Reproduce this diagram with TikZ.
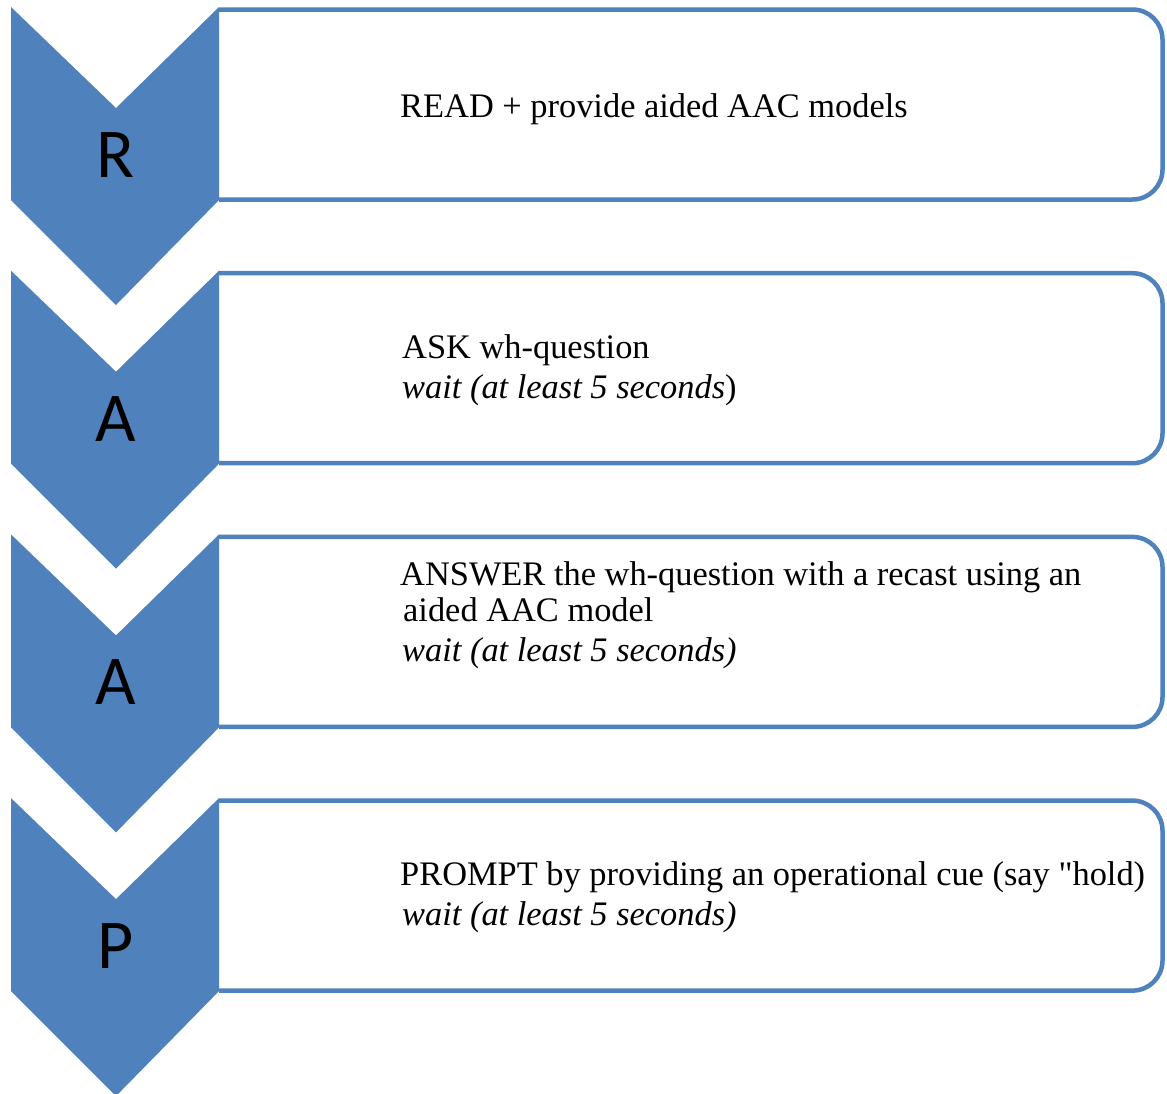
\documentclass[tikz,border=0pt]{standalone}
\usepackage{fontspec}
\setmainfont{Liberation Serif}
\newfontfamily\lettfont{Carlito}
\newfontfamily\straightq{Liberation Serif}[Ligatures=TeXOff]
\definecolor{chevblue}{HTML}{4F81BD}
\begin{document}
\begin{tikzpicture}[x=1pt,y=-1pt,
  boxline/.style={draw=chevblue,line width=4.5pt,fill=white,rounded corners=30pt},
  chevfill/.style={fill=chevblue},
  letter/.style={font=\lettfont\fontsize{70}{70}\selectfont,inner sep=0pt},
  txt/.style={font=\fontsize{34.4}{40}\selectfont,anchor=base west,inner sep=0pt}]
\useasboundingbox (0,0) rectangle (1167,1093);
\foreach \i/\L in {0/R,1/A,2/A,3/P}{
  \pgfmathsetmacro\dy{263.7*\i}
  \path[boxline] (219,9.5+\dy) -- (1162.5,9.5+\dy) -- (1162.5,199.5+\dy) -- (219,199.5+\dy);
  \fill[chevfill] (11,7+\dy) -- (116,108+\dy) -- (219,7+\dy) -- (219,200+\dy) -- (116,305+\dy) -- (11,200+\dy) -- cycle;
  \node[letter] (let\i) at (116,155+\dy) {\L};
}
\node[txt] (t1) at (400,117) {READ + provide aided AAC models};
\node[txt] (t2a) at (402,358) {ASK wh-question};
\node[txt] (t2b) at (402,398) {\textit{wait (at least 5 seconds})};
\node[txt] (t3a) at (400,585) {ANSWER the wh-question with a recast using an};
\node[txt] (t3b) at (403,621) {aided AAC model};
\node[txt] (t3c) at (402,661) {\textit{wait (at least 5 seconds)}};
\node[txt] (t4a) at (400,885) {PROMPT by providing an operational cue (say {\straightq\fontsize{34.4}{40}\selectfont"}hold)};
\node[txt] (t4b) at (402,925) {\textit{wait (at least 5 seconds)}};
\end{tikzpicture}
\end{document}
